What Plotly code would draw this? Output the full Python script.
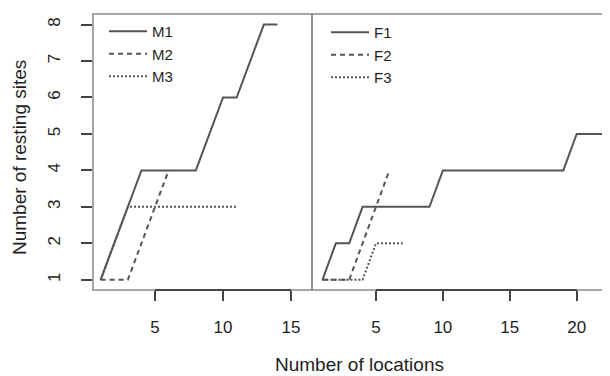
import plotly.graph_objects as go

# ---- data ----
M_x = list(range(1, 15))
M1 = [1, 2, 3, 4, 4, 4, 4, 4, 5, 6, 6, 7, 8, 8]
M2_x = list(range(1, 7))
M2 = [1, 1, 1, 2, 3, 4]
M3_x = list(range(1, 12))
M3 = [1, 2, 3, 3, 3, 3, 3, 3, 3, 3, 3]

F1_x = list(range(1, 23))
F1 = [1, 2, 2, 3, 3, 3, 3, 3, 3, 4, 4, 4, 4, 4, 4, 4, 4, 4, 4, 5, 5, 5]
F2_x = list(range(1, 7))
F2 = [1, 1, 1, 2, 3, 4]
F3_x = list(range(1, 8))
F3 = [1, 1, 1, 1, 2, 2, 2]

left_ticks = [5, 10, 15]
right_ticks = [5, 10, 15, 20]
y_ticks = [1, 2, 3, 4, 5, 6, 7, 8]

OFF = 8  # page body margin
W, H = 610 - OFF, 376 - OFF
LINE = "#555555"
TXT = "#1e1e1e"
FONT = "Liberation Sans, Arial, sans-serif"

def px_x(p):
    return (p - OFF) / W

def px_y(p):
    return 1 - (p - OFF) / H

fig = go.Figure()

DASHES = {"solid": "solid", "dash": "5px,4px", "dot": "2px,2px"}

def add(x, y, name, dash, xa, ya, legend):
    fig.add_trace(go.Scatter(x=x, y=y, mode="lines", name=name,
                             line=dict(color=LINE, width=2, dash=DASHES[dash]),
                             xaxis=xa, yaxis=ya, legend=legend))

add(M_x, M1, "M1", "solid", "x", "y", "legend")
add(M2_x, M2, "M2", "dash", "x", "y", "legend")
add(M3_x, M3, "M3", "dot", "x", "y", "legend")
add(F1_x, F1, "F1", "solid", "x2", "y2", "legend2")
add(F2_x, F2, "F2", "dash", "x2", "y2", "legend2")
add(F3_x, F3, "F3", "dot", "x2", "y2", "legend2")

ydom = [px_y(290), px_y(14)]
yr = [0.72, 8.29]

xcommon = dict(showgrid=False, zeroline=False, showline=False, ticks="outside",
               ticklen=10, tickwidth=1.5, tickcolor="#444", automargin=False,
               ticklabelstandoff=12,
               tickfont=dict(size=17, color=TXT, family=FONT))

leg_common = dict(xanchor="left", yanchor="top", bgcolor="rgba(0,0,0,0)",
                  font=dict(size=15, color=TXT, family=FONT),
                  tracegroupgap=0, itemwidth=38)

fig.update_layout(
    template="none",
    width=W, height=H,
    margin=dict(l=0, r=0, t=0, b=0),
    paper_bgcolor="white", plot_bgcolor="white",
    font=dict(family=FONT, color=TXT),
    xaxis=dict(domain=[px_x(93), px_x(312)], range=[0.44, 16.54],
               tickvals=left_ticks, anchor="y", **xcommon),
    xaxis2=dict(domain=[px_x(312), px_x(608)], range=[0.22, 22.34],
                tickvals=right_ticks, anchor="y2", **xcommon),
    yaxis=dict(domain=ydom, range=yr, tickvals=y_ticks, ticks="outside",
               ticklen=11, tickwidth=1.5, tickcolor="#444", tickangle=-90,
               showgrid=False, zeroline=False, showline=False, anchor="x",
               automargin=False, ticklabelstandoff=14,
               tickfont=dict(size=17, color=TXT, family=FONT)),
    yaxis2=dict(domain=ydom, range=yr, showticklabels=False, ticks="",
                showgrid=False, zeroline=False, showline=False, anchor="x2",
                automargin=False),
    legend=dict(x=px_x(104), y=px_y(15), **leg_common),
    legend2=dict(x=px_x(326), y=px_y(16), **leg_common),
    showlegend=True,
)

# panel boxes
for xr in ("x domain", "x2 domain"):
    yr_ref = "y domain" if xr == "x domain" else "y2 domain"
    fig.add_shape(type="rect", xref=xr, yref=yr_ref, x0=0, x1=1, y0=0, y1=1,
                  line=dict(color="#8a8a8a", width=1.5), layer="above")
# axis lines between first and last tick (R style)
fig.add_shape(type="line", xref="x", yref="y domain", x0=left_ticks[0], x1=left_ticks[-1],
              y0=0, y1=0, line=dict(color="#444", width=2))
fig.add_shape(type="line", xref="x2", yref="y2 domain", x0=right_ticks[0], x1=right_ticks[-1],
              y0=0, y1=0, line=dict(color="#444", width=2))

fig.add_annotation(text="Number of resting sites", x=px_x(20), y=px_y(158),
                   xref="paper", yref="paper", textangle=-90, showarrow=False,
                   xanchor="center", yanchor="middle",
                   font=dict(size=19, color=TXT, family=FONT))
fig.add_annotation(text="Number of locations", x=px_x(359), y=px_y(364),
                   xref="paper", yref="paper", showarrow=False,
                   xanchor="center", yanchor="middle",
                   font=dict(size=19, color=TXT, family=FONT))

fig.write_html("out.html")
